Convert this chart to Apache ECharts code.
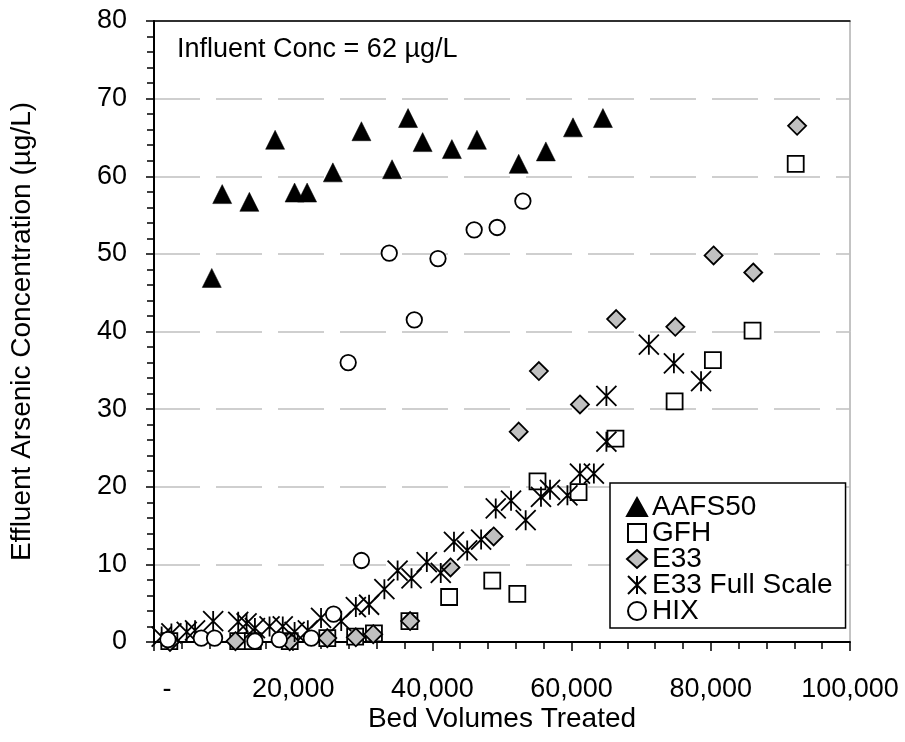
<!DOCTYPE html>
<html><head><meta charset="utf-8">
<script src="https://cdn.jsdelivr.net/npm/echarts@6/dist/echarts.min.js"></script>
<style>html,body{margin:0;padding:0;background:#fff}#c{width:905px;height:742px}</style>
</head><body><div id="c"></div>
<script>
const seriesNames = ['AAFS50', 'GFH', 'E33', 'E33 Full Scale', 'HIX'];
const xTicks = [0, 20000, 40000, 60000, 80000, 100000];
const yTicks = [0, 10, 20, 30, 40, 50, 60, 70, 80];
const annotationText = 'Influent Conc = 62 µg/L';
const xTitle = 'Bed Volumes Treated';
const yTitle = 'Effluent Arsenic Concentration (µg/L)';

const aafs50 = [[8300,46.9],[9800,57.7],[13700,56.7],[17400,64.7],[20200,57.9],[22000,57.9],[25700,60.5],[29800,65.8],[34200,60.9],[36500,67.5],[38600,64.4],[42800,63.5],[46400,64.7],[52400,61.6],[56300,63.2],[60200,66.3],[64500,67.5]];
const gfh = [[2200,0.1],[12100,0.1],[14200,0.1],[19500,0.1],[24900,0.5],[28900,0.7],[31600,1.1],[36700,2.7],[42400,5.8],[48600,7.9],[52200,6.2],[55100,20.7],[61000,19.3],[66300,26.2],[74800,31.0],[80300,36.3],[86000,40.1],[92200,61.6]];
const e33 = [[2300,0.0],[11700,0.1],[19500,0.1],[24900,0.5],[29000,0.6],[31500,1.0],[36800,2.7],[42600,9.6],[48800,13.6],[52400,27.1],[55300,34.9],[61200,30.6],[66400,41.6],[74900,40.6],[80400,49.8],[86100,47.6],[92400,66.5]];
const e33Full = [[1100,0.7],[2500,1.1],[4700,1.3],[5900,1.5],[8500,2.7],[12100,2.6],[13300,2.4],[14500,1.8],[16600,2.0],[18500,2.0],[20200,1.3],[22100,1.5],[24000,3.1],[26900,2.7],[29000,4.5],[30900,4.8],[33100,6.8],[35000,9.2],[37000,8.2],[39200,10.3],[41200,8.9],[43100,12.9],[45000,11.8],[47000,13.2],[49100,17.2],[51300,18.2],[53400,15.7],[55600,18.7],[56900,19.6],[59400,18.9],[61200,21.7],[63200,21.7],[65000,25.8],[65000,31.7],[71100,38.3],[74700,35.9],[78600,33.6]];
const hix = [[2000,0.3],[6800,0.5],[8700,0.5],[14500,0.1],[18000,0.3],[22600,0.5],[25800,3.6],[29800,10.5],[27900,36.0],[33800,50.1],[37400,41.5],[40800,49.4],[46000,53.1],[49300,53.4],[53000,56.8]];

const FONT = '"Liberation Sans", Arial, sans-serif';
const asterisk = 'path://M0,0L20,20M20,0L0,20M10,0L10,20';
const squarePath = 'path://M0,0L16,0L16,16L0,16Z';

const chart = echarts.init(document.getElementById('c'), null, {renderer: 'canvas'});
const fmtX = v => v === 0 ? '{d|-}' : v.toLocaleString('en-US');

chart.setOption({
  animation: false,
  backgroundColor: '#fff',
  textStyle: {fontFamily: FONT},
  grid: {left: 152, right: 55, top: 21, bottom: 100, show: true, borderColor: '#888', borderWidth: 1},
  graphic: [{type: 'text', left: 177, top: 36, style: {text: annotationText, font: '27px ' + FONT, fill: '#000'}}],
  legend: {
    orient: 'vertical', left: 610, top: 483,
    backgroundColor: '#fff', borderColor: '#000', borderWidth: 1.5,
    padding: [10, 13, 3, 16], itemGap: -2, itemWidth: 20, itemHeight: 18,
    textStyle: {fontFamily: FONT, fontSize: 28, color: '#000'},
    data: [
      {name: seriesNames[0], icon: 'triangle'},
      {name: seriesNames[1], icon: squarePath},
      {name: seriesNames[2], icon: 'diamond'},
      {name: seriesNames[3], icon: asterisk},
      {name: seriesNames[4], icon: 'circle'}
    ]
  },
  xAxis: [{
    type: 'value', min: 0, max: 100000, interval: 20000,
    name: xTitle, nameLocation: 'middle', nameGap: 63, nameMoveOverlap: false,
    nameTextStyle: {fontFamily: FONT, fontSize: 28, color: '#000'},
    axisLine: {lineStyle: {color: '#000', width: 2}},
    axisTick: {show: true, length: 9, lineStyle: {color: '#000', width: 1.5}},
    minorTick: {show: true, splitNumber: 5, length: 7, lineStyle: {color: '#000', width: 1.5}},
    splitLine: {show: false},
    axisLabel: {margin: 34, fontFamily: FONT, fontSize: 27, color: '#000', formatter: fmtX,
      rich: {d: {fontFamily: FONT, fontSize: 27, color: '#000', padding: [0, 0, 0, 26]}}}
  }, {
    type: 'value', position: 'top', min: 0, max: 100000,
    axisLine: {show: true, lineStyle: {color: '#000', width: 1.5}},
    axisTick: {show: false}, axisLabel: {show: false}, splitLine: {show: false}
  }],
  yAxis: {
    type: 'value', min: 0, max: 80, interval: 10,
    name: yTitle, nameLocation: 'middle', nameGap: 118, nameMoveOverlap: false,
    nameTextStyle: {fontFamily: FONT, fontSize: 28, color: '#000'},
    axisLine: {show: true, lineStyle: {color: '#000', width: 2}},
    axisTick: {show: true, length: 8, lineStyle: {color: '#000', width: 1.5}},
    minorTick: {show: true, splitNumber: 5, length: 7, lineStyle: {color: '#000', width: 1.5}},
    splitLine: {show: true, lineStyle: {color: '#c0c0c0', width: 1.5, type: [46, 16]}},
    axisLabel: {margin: 27, fontFamily: FONT, fontSize: 27, color: '#000'}
  },
  series: [
    {name: seriesNames[0], type: 'scatter', data: aafs50, symbol: 'triangle', symbolSize: 19,
      itemStyle: {color: '#000', borderColor: '#000', borderWidth: 0.5, opacity: 1}},
    {name: seriesNames[1], type: 'scatter', data: gfh, symbol: 'rect', symbolSize: 16,
      itemStyle: {color: '#fff', borderColor: '#000', borderWidth: 1.8, opacity: 1}},
    {name: seriesNames[2], type: 'scatter', data: e33, symbol: 'diamond', symbolSize: 18,
      itemStyle: {color: '#c0c0c0', borderColor: '#000', borderWidth: 1.8, opacity: 1}},
    {name: seriesNames[3], type: 'scatter', data: e33Full, symbol: asterisk, symbolSize: 20,
      itemStyle: {color: '#000', borderColor: '#000', borderWidth: 1.8, opacity: 1}},
    {name: seriesNames[4], type: 'scatter', data: hix, symbol: 'circle', symbolSize: 15.5,
      itemStyle: {color: '#fff', borderColor: '#000', borderWidth: 1.8, opacity: 1}}
  ]
});
</script></body></html>
